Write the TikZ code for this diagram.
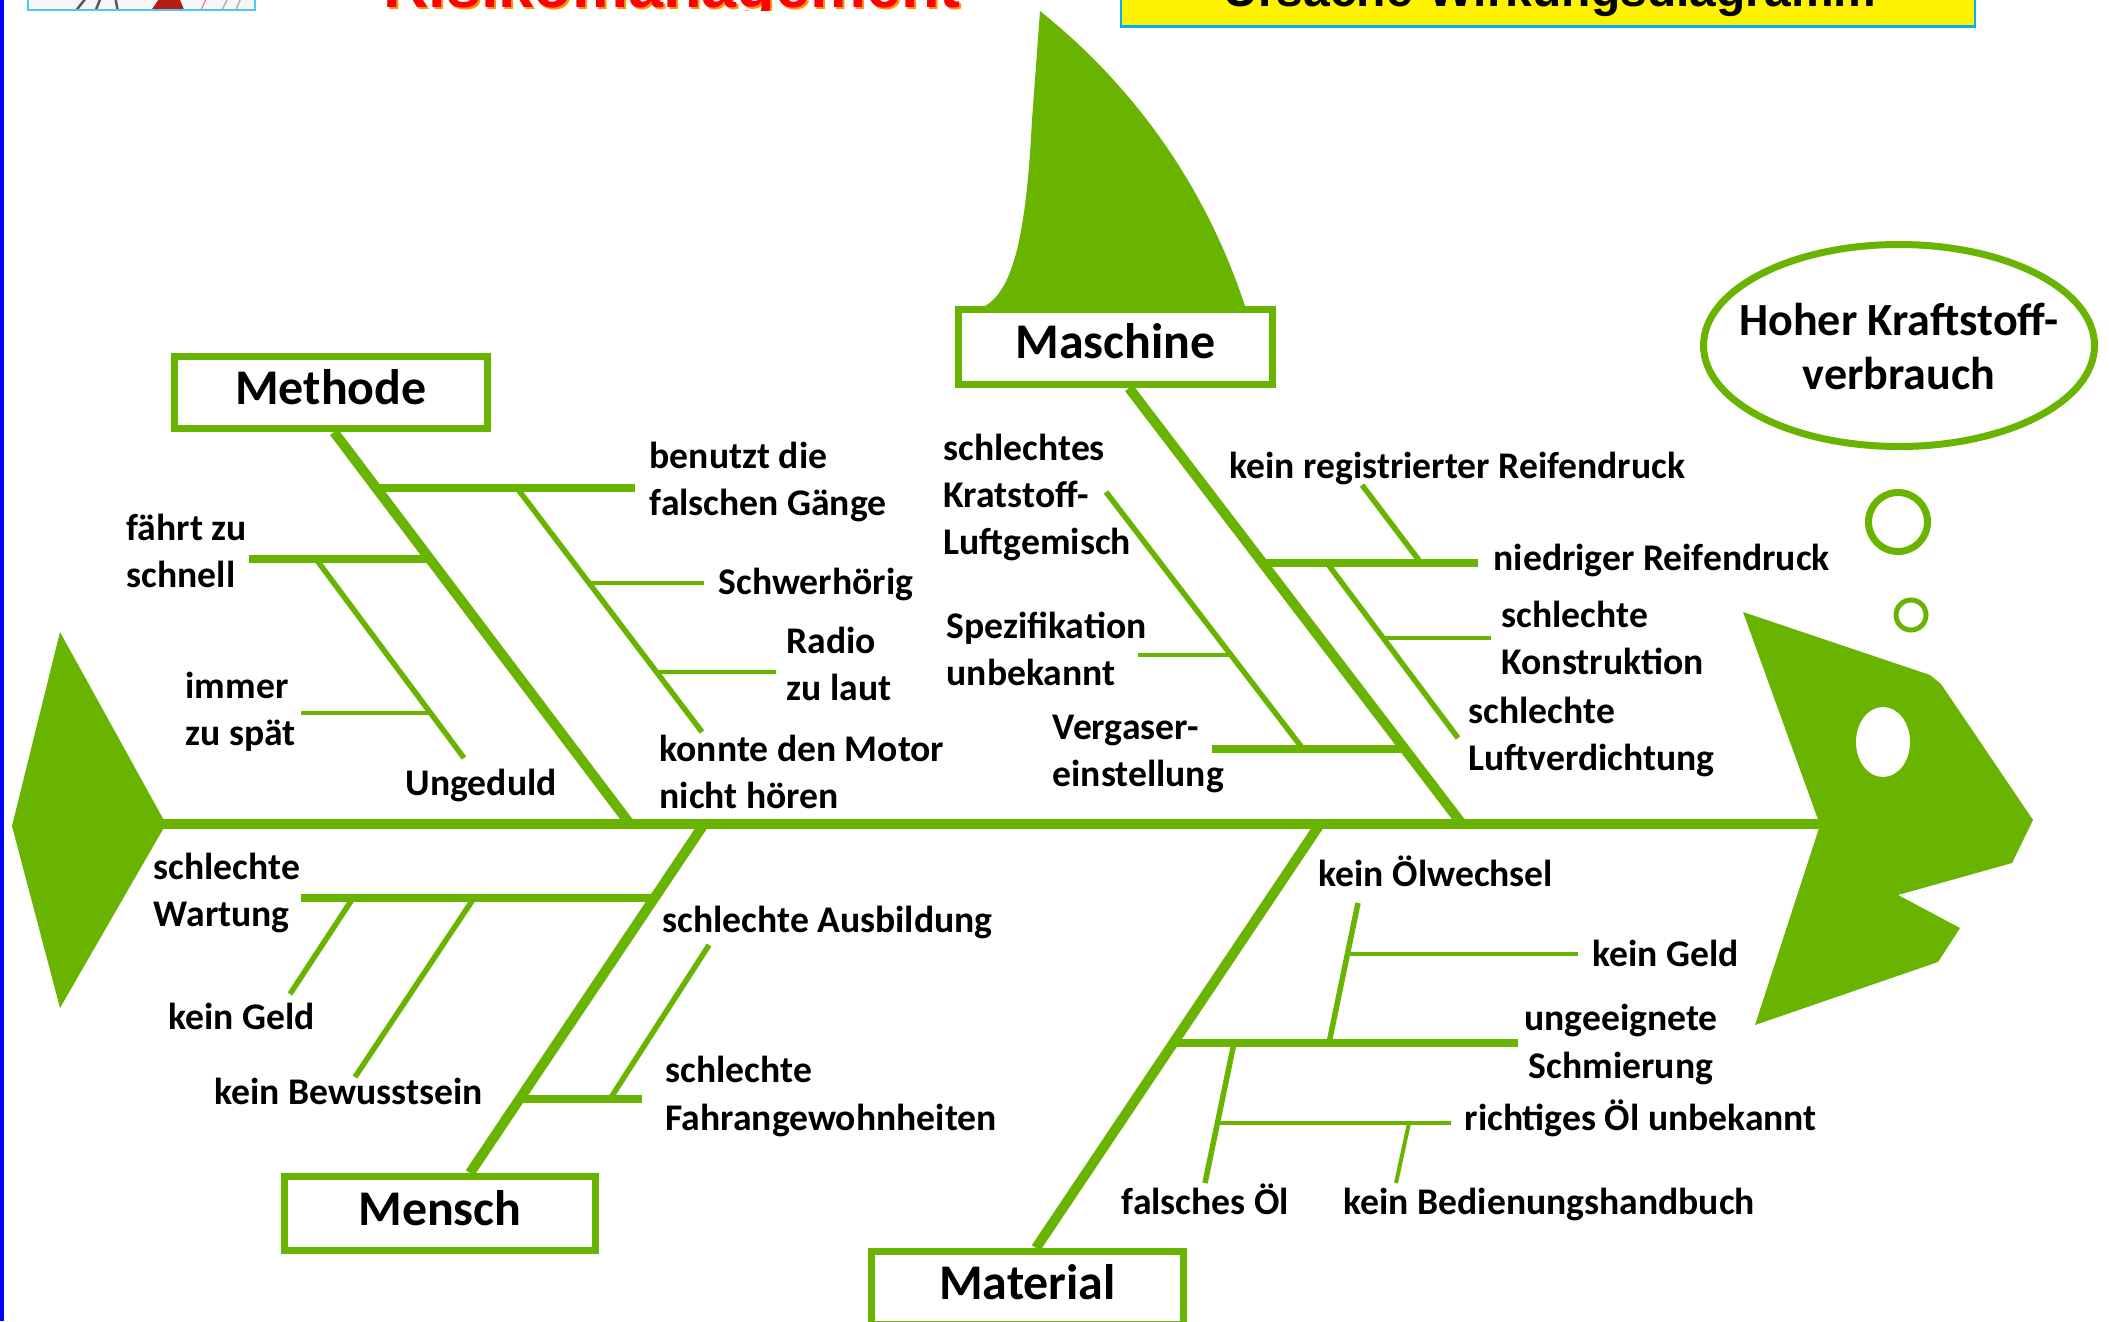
\documentclass[tikz,border=0pt]{standalone}
\usepackage{fontspec}
\setmainfont{Carlito}
\newfontfamily\headfont{Liberation Sans}
\usetikzlibrary{calc}
\definecolor{fishgreen}{RGB}{104,180,0}
\definecolor{hdblue}{RGB}{0,176,240}
\definecolor{hdorange}{RGB}{255,150,0}
\definecolor{logored}{RGB}{180,30,20}

\begin{document}
\begin{tikzpicture}[x=0.01cm,y=-0.01cm,
  spine/.style={draw=fishgreen,line width=1.05mm},
  bone/.style={draw=fishgreen,line width=1.0mm},
  rib/.style={draw=fishgreen,line width=0.78mm},
  twig/.style={draw=fishgreen,line width=0.55mm},
  leaf/.style={draw=fishgreen,line width=0.4mm},
  cause/.style={draw=fishgreen,line width=0.7mm,fill=white,inner sep=0pt,
    font=\bfseries\fontsize{14.2pt}{17pt}\selectfont},
  lbl/.style={inner sep=0pt,anchor=west,align=left,
    font=\bfseries\fontsize{10.7pt}{13.4pt}\selectfont},
]
\useasboundingbox (0,0) rectangle (2109,1321);
\clip (0,0) rectangle (2109,1321);
\fill[white] (0,0) rectangle (2109,1321);

% ---------- slide header (only its lower edge shows) ----------
\begin{scope}
  \clip (0,0) rectangle (2109,10.5);
  \fill[gray!7] (28,-80) rectangle (255,10);
  \draw[gray!70!black,line width=0.25mm] (75,12) -- (100,-20) (95,12) -- (108,-20) (118,12) -- (112,-20);
  \fill[logored] (150,12) -- (172,-20) -- (185,12) -- cycle;
  \draw[red!60,line width=0.1mm] (200,12) -- (215,-20);
  \draw[gray!60,line width=0.15mm] (222,10) -- (232,-10) (236,10) -- (244,-10);
  \draw[hdblue!70,line width=0.2mm] (28,-80) -- (28,10) -- (255,10) -- (255,-80);
  \node[anchor=base,text=hdorange,font=\headfont\bfseries\fontsize{17.9pt}{20pt}\selectfont]
    (titleshadow) at (674,9.5) {Risikomanagement};
  \node[anchor=base,text=red,font=\headfont\bfseries\fontsize{17.9pt}{20pt}\selectfont]
    (title) at (672,8) {Risikomanagement};
\end{scope}
\draw[fill=yellow,draw=hdblue,line width=0.25mm] (1121,-20) rectangle (1975,26.5);
\node[anchor=base,font=\headfont\bfseries\fontsize{13.65pt}{16pt}\selectfont]
  (heading) at (1550,7) {Ursache-Wirkungsdiagramm};
\fill[blue] (0,0) rectangle (3.5,1321);

% ---------- fish body ----------
% dorsal fin
\fill[fishgreen] (985,306) .. controls (1012,290) and (1026,240) .. (1032,120)
  -- (1040,11) .. controls (1120,75) and (1200,170) .. (1245,306) -- cycle;
% tail
\fill[fishgreen] (60,632) -- (166,824) -- (60,1008) -- (12,826) -- cycle;
% head with eye
\fill[fishgreen] (1743,612) -- (1930,675) -- (1941,684) -- (2033,820) -- (2012,863)
  -- (1898,895) -- (1960,928) -- (1938,962) -- (1755,1025) -- (1820,825) -- cycle;
\fill[white] (1883,742) ellipse [x radius=27, y radius=35];
% thought bubbles
\draw[fishgreen,line width=0.5mm] (1911,615) circle [radius=15];
\draw[fishgreen,line width=0.7mm] (1898,522) circle [radius=29.5];
\draw[fishgreen,line width=0.7mm] (1899,345.5) ellipse [x radius=195.5, y radius=101];
\node[inner sep=0pt,align=center,font=\bfseries\fontsize{13.1pt}{15.6pt}\selectfont]
  (effect) at (1899,351.5) {\strut Hoher Kraftstoff-\\verbrauch\strut};

% spine
\coordinate (tailend) at (160,824);
\coordinate (headjoin) at (1822,824);
\draw[spine] (tailend) -- (headjoin);

% ---------- category boxes ----------
\node[cause,minimum width=3.13cm,minimum height=0.72cm] (methode) at (331,392.5) {\strut Methode};
\node[cause,minimum width=3.14cm,minimum height=0.75cm] (maschine) at (1115.5,347) {\strut Maschine};
\node[cause,minimum width=3.11cm,minimum height=0.74cm] (mensch) at (440,1213.5) {\strut Mensch};
\node[cause,minimum width=3.12cm,minimum height=0.73cm] (material) at (1027.5,1288) {\strut Material};

% main bones
\coordinate (jMethode) at (630,824);
\coordinate (jMaschine) at (1462,824);
\coordinate (jMensch) at (704,824);
\coordinate (jMaterial) at (1320,824);
\draw[bone] ([xshift=0.03cm]methode.south) -- (jMethode);
\draw[bone] ([xshift=0.135cm]maschine.south) -- (jMaschine);
\draw[bone] ([xshift=0.3cm]mensch.north) -- (jMensch);
\draw[bone] ([xshift=0.085cm]material.north) -- (jMaterial);

% ---------- Methode ----------
\coordinate (mg0) at (376,488);   \coordinate (mg1) at (635,488);
\coordinate (mh0) at (517,488);   \coordinate (mh1) at (702,732);
\coordinate (ms0) at (589,583);   \coordinate (ms1) at (704,583);
\coordinate (mr0) at (656,672);   \coordinate (mr1) at (776,672);
\coordinate (mf0) at (430,559);   \coordinate (mf1) at (249,559);
\coordinate (mu0) at (316,559);   \coordinate (mu1) at (464,758);
\coordinate (mi0) at (430,713);   \coordinate (mi1) at (301,713);
\draw[rib] (mg0) -- (mg1);
\draw[twig] (mh0) -- (mh1);
\draw[leaf] (ms0) -- (ms1);
\draw[leaf] (mr0) -- (mr1);
\draw[rib] (mf0) -- (mf1);
\draw[twig] (mu0) -- (mu1);
\draw[leaf] (mi0) -- (mi1);
\node[lbl] (gaenge) at (649,483) {\strut benutzt die\\falschen Gänge\strut};
\node[lbl] (schwer) at (718,585) {\strut Schwerhörig\strut};
\node[lbl] (radio) at (786,668) {\strut Radio\\zu laut\strut};
\node[lbl] (motor) at (659,776) {\strut konnte den Motor\\nicht hören\strut};
\node[lbl] (schnell) at (126,555) {\strut fährt zu\\schnell\strut};
\node[lbl] (spaet) at (185,713) {\strut immer\\zu spät\strut};
\node[lbl] (ungeduld) at (405,786) {\strut Ungeduld\strut};

% ---------- Maschine ----------
\coordinate (an0) at (1263,563);  \coordinate (an1) at (1478,563);
\coordinate (ak0) at (1362,485);  \coordinate (ak1) at (1421,563);
\coordinate (al0) at (1327,563);  \coordinate (al1) at (1458,738);
\coordinate (ac0) at (1383,638);  \coordinate (ac1) at (1491,638);
\coordinate (av0) at (1405,749);  \coordinate (av1) at (1212,749);
\coordinate (ag0) at (1106,492);  \coordinate (ag1) at (1303,749);
\coordinate (as0) at (1231,655);  \coordinate (as1) at (1138,655);
\draw[rib] (an0) -- (an1);
\draw[twig] (ak0) -- (ak1);
\draw[twig] (al0) -- (al1);
\draw[leaf] (ac0) -- (ac1);
\draw[rib] (av0) -- (av1);
\draw[twig] (ag0) -- (ag1);
\draw[leaf] (as0) -- (as1);
\node[lbl] (registriert) at (1229,469) {\strut kein registrierter Reifendruck\strut};
\node[lbl] (niedrig) at (1493,561) {\strut niedriger Reifendruck\strut};
\node[lbl] (konstruktion) at (1501,642) {\strut schlechte\\Konstruktion\strut};
\node[lbl] (luft) at (1468,738) {\strut schlechte\\Luftverdichtung\strut};
\node[lbl] (vergaser) at (1052,754) {\strut Vergaser-\\einstellung\strut};
\node[lbl] (spezifikation) at (946,653) {\strut Spezifikation\\unbekannt\strut};
\node[lbl] (gemisch) at (943,498) {\strut schlechtes\\Kratstoff-\\Luftgemisch\strut};

% ---------- Mensch ----------
\coordinate (ew0) at (654,898);   \coordinate (ew1) at (301,898);
\coordinate (eg0) at (353,898);   \coordinate (eg1) at (290,994);
\coordinate (eb0) at (474,898);   \coordinate (eb1) at (355,1077);
\coordinate (ef0) at (520,1099);  \coordinate (ef1) at (642,1099);
\coordinate (ea0) at (709,945);   \coordinate (ea1) at (610,1099);
\draw[rib] (ew0) -- (ew1);
\draw[twig] (eg0) -- (eg1);
\draw[twig] (eb0) -- (eb1);
\draw[rib] (ef0) -- (ef1);
\draw[twig] (ea0) -- (ea1);
\node[lbl] (wartung) at (153,894) {\strut schlechte\\Wartung\strut};
\node[lbl] (geldA) at (168,1020) {\strut kein Geld\strut};
\node[lbl] (bewusst) at (214,1095) {\strut kein Bewusstsein\strut};
\node[lbl] (ausbildung) at (662,923) {\strut schlechte Ausbildung\strut};
\node[lbl] (gewohnheit) at (665,1097) {\strut schlechte\\Fahrangewohnheiten\strut};

% ---------- Material ----------
\coordinate (ts0) at (1173,1043); \coordinate (ts1) at (1518,1043);
\coordinate (to0) at (1358,903);  \coordinate (to1) at (1329,1043);
\coordinate (tg0) at (1347,954);  \coordinate (tg1) at (1578,954);
\coordinate (tf0) at (1234,1043); \coordinate (tf1) at (1205,1183);
\coordinate (tr0) at (1217,1123); \coordinate (tr1) at (1451,1123);
\coordinate (tb0) at (1409,1123); \coordinate (tb1) at (1396,1183);
\draw[rib] (ts0) -- (ts1);
\draw[twig] (to0) -- (to1);
\draw[leaf] (tg0) -- (tg1);
\draw[twig] (tf0) -- (tf1);
\draw[leaf] (tr0) -- (tr1);
\draw[leaf] (tb0) -- (tb1);
\node[lbl] (oelwechsel) at (1318,877) {\strut kein Ölwechsel\strut};
\node[lbl] (geldB) at (1592,957) {\strut kein Geld\strut};
\node[lbl,anchor=center,align=center] (schmierung) at (1621,1045) {\strut ungeeignete\\Schmierung\strut};
\node[lbl] (richtig) at (1464,1121) {\strut richtiges Öl unbekannt\strut};
\node[lbl] (falsch) at (1121,1205) {\strut falsches Öl\strut};
\node[lbl] (handbuch) at (1343,1205) {\strut kein Bedienungshandbuch\strut};
\end{tikzpicture}
\end{document}
